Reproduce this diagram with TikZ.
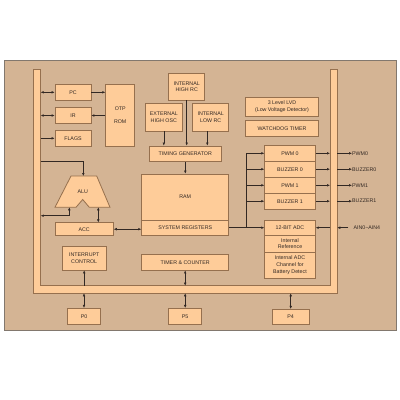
\documentclass[tikz,border=0pt]{standalone}
\usepackage{fontspec}
\setmainfont{Liberation Sans}
\usetikzlibrary{arrows.meta}
\definecolor{bgtan}{RGB}{212,180,148}
\definecolor{boxfill}{RGB}{254,204,153}
\definecolor{boxline}{RGB}{150,112,78}
\definecolor{ink}{RGB}{50,40,35}
\definecolor{frameline}{RGB}{130,120,110}
\tikzset{
  blk/.style={draw=boxline, fill=boxfill, line width=0.8pt, inner sep=0pt, align=center,
    font=\fontsize{5.3}{6.6}\selectfont, text=ink},
  lbl/.style={inner sep=0pt, font=\fontsize{5.3}{6.6}\selectfont, text=ink},
  con/.style={draw=ink, line width=0.5pt},
  arr/.style={con, -{Latex[length=3pt,width=2.6pt]}},
  darr/.style={con, {Latex[length=3pt,width=2.6pt]}-{Latex[length=3pt,width=2.6pt]}},
}
\begin{document}
\begin{tikzpicture}[x=1pt,y=-1pt]
\useasboundingbox (0,0) rectangle (400,400);
\fill[white] (0,0) rectangle (400,400);
% panel
\draw[fill=bgtan, draw=frameline, line width=0.8pt] (4,60.3) rectangle (396,330.3);
% bus
\draw[fill=boxfill, draw=boxline, line width=0.8pt]
  (33.3,69) -- (33.3,293.3) -- (337.3,293.3) -- (337.3,69) -- (330,69) -- (330,285.7)
  -- (40.7,285.7) -- (40.7,69) -- cycle;
\coordinate (bli) at (40.7,0);
\coordinate (bri) at (330,0);
\coordinate (bro) at (337.3,0);
\coordinate (bbi) at (0,285.7);
\coordinate (bbo) at (0,293.3);

% left blocks
\node[blk, minimum width=36pt, minimum height=15.3pt] (pc) at (73,92.3) {PC};
\node[blk, minimum width=36pt, minimum height=15.6pt] (ir) at (73,115.5) {IR};
\node[blk, minimum width=36pt, minimum height=15.3pt] (flags) at (73,138.3) {FLAGS};
\node[blk, minimum width=29pt, minimum height=61.3pt] (rom) at (120.2,115.3) {OTP\\[6.4pt]ROM};

% oscillators
\node[blk, minimum width=36pt, minimum height=27pt] (ihrc) at (186.7,86.5) {INTERNAL\\HIGH RC};
\node[blk, minimum width=36.3pt, minimum height=27.3pt] (ehosc) at (163.8,117.3) {EXTERNAL\\HIGH OSC};
\node[blk, minimum width=36pt, minimum height=27.3pt] (ilrc) at (210.7,117.3) {INTERNAL\\LOW RC};
\node[blk, minimum width=72pt, minimum height=15.7pt] (tg) at (185.3,153.8) {TIMING GENERATOR};

% RAM
\node[blk, minimum width=87pt, minimum height=46pt] (ram) at (185.2,197) {RAM};
\node[blk, minimum width=87pt, minimum height=15.3pt] (sr) at (185.2,227.7) {SYSTEM REGISTERS};

% right blocks
\node[blk, minimum width=72.6pt, minimum height=18.3pt] (lvd) at (282,106.8) {3 Level LVD\\(Low Voltage Detector)};
\node[blk, minimum width=72.6pt, minimum height=15.6pt] (wdt) at (282,128.5) {WATCHDOG TIMER};
\node[blk, minimum width=50.6pt, minimum height=15.3pt] (pwm0) at (290,153.3) {PWM 0};
\node[blk, minimum width=50.6pt, minimum height=16.3pt] (buz0) at (290,169.2) {BUZZER 0};
\node[blk, minimum width=50.6pt, minimum height=16pt] (pwm1) at (290,185.3) {PWM 1};
\node[blk, minimum width=50.6pt, minimum height=15.7pt] (buz1) at (290,201.2) {BUZZER 1};
\node[blk, minimum width=50.6pt, minimum height=15.6pt] (adc) at (290,227.7) {12-BIT ADC};
\node[blk, minimum width=50.6pt, minimum height=16.7pt] (iref) at (290,243.7) {Internal\\Reference};
\node[blk, minimum width=50.6pt, minimum height=26.3pt] (iadc) at (290,265.2) {Internal ADC\\Channel for\\Battery Detect};

% ALU
\draw[fill=boxfill, draw=boxline, line width=0.8pt]
  (71,176) -- (96.7,176) -- (110,207.3) -- (89.3,207.3) -- (82.7,199.5) -- (76,207.3) -- (55,207.3) -- cycle;
\node[lbl] (alu) at (82.7,191.7) {ALU};
\coordinate (alutop) at (83.3,176);
\coordinate (alubl) at (69.3,207.3);
\coordinate (alubr) at (98.3,207.3);
\coordinate (aluin) at (40.7,161.7);
\coordinate (aluout) at (40.7,215.7);

\node[blk, minimum width=58.3pt, minimum height=12.7pt] (acc) at (84.2,229.2) {ACC};
\node[blk, minimum width=43.7pt, minimum height=23.3pt] (ic) at (84.2,258.3) {INTERRUPT\\CONTROL};
\node[blk, minimum width=87pt, minimum height=15.7pt] (tc) at (185.2,262.2) {TIMER \& COUNTER};

% ports
\node[blk, minimum width=32.6pt, minimum height=15.7pt] (p0) at (84,316.2) {P0};
\node[blk, minimum width=33pt, minimum height=15.7pt] (p5) at (185.2,316.2) {P5};
\node[blk, minimum width=36.6pt, minimum height=15.4pt] (p4) at (290.7,317) {P4};

% output labels
\node[lbl, anchor=west] (lpwm0) at (352,153.3) {PWM0};
\node[lbl, anchor=west] (lbuz0) at (352,169.8) {BUZZER0};
\node[lbl, anchor=west] (lpwm1) at (352,185.8) {PWM1};
\node[lbl, anchor=west] (lbuz1) at (352,200.5) {BUZZER1};
\node[lbl, anchor=west] (lain) at (353.3,227.7) {AIN0\textasciitilde AIN4};

% connectors: left
\draw[darr] (pc.west -| bli) -- (pc.west);
\draw[darr] (ir.west -| bli) -- (ir.west);
\draw[arr] (flags.west -| bli) -- (flags.west);
\draw[arr] (pc.east) -- (pc.east -| rom.west);
\draw[arr] (ir.east -| rom.west) -- (ir.east);

% oscillators to timing generator
\draw[arr] (ihrc.south) -- (ihrc.south |- tg.north);
\draw[arr] (ehosc.south) -- (ehosc.south |- tg.north);
\draw[arr] ([xshift=-3.4pt]ilrc.south) -- ([xshift=-3.4pt]ilrc.south |- tg.north);
\draw[arr] (tg.south) -- (tg.south |- ram.north);

% ALU
\draw[arr] (aluin) -| (alutop);
\draw[darr] (alubl) |- (aluout);
\draw[darr] (alubr) -- (alubr |- acc.north);
\draw[darr] (acc.east) -- (acc.east -| sr.west);

% system registers to peripherals
\coordinate (sp) at (246.7,227.7);
\draw[con] (sr.east) -- (sp);
\draw[arr] (sp) -- (adc.west);
\draw[con] (sp) -- (sp |- pwm0.west);
\draw[arr] (sp |- pwm0.west) -- (pwm0.west);
\draw[arr] (sp |- buz0.west) -- (buz0.west);
\draw[arr] (sp |- pwm1.west) -- (pwm1.west);
\draw[arr] (sp |- buz1.west) -- (buz1.west);

% outputs through bus
\draw[arr] (pwm0.east) -- (pwm0.east -| bri);
\draw[arr] (pwm0.east -| bro) -- (lpwm0.west);
\draw[arr] (buz0.east) -- (buz0.east -| bri);
\draw[arr] (buz0.east -| bro) -- (lbuz0.west |- buz0.east);
\draw[arr] (pwm1.east) -- (pwm1.east -| bri);
\draw[arr] (pwm1.east -| bro) -- (lpwm1.west |- pwm1.east);
\draw[arr] (buz1.east) -- (buz1.east -| bri);
\draw[arr] (buz1.east -| bro) -- (lbuz1.west |- buz1.east);
\draw[arr] ([xshift=-5pt]lain.west) -- (lain.west -| bro);
\draw[arr] (adc.east -| bri) -- (adc.east);

% bottom
\draw[arr] (ic.south |- bbi) -- (ic.south);
\draw[darr] (tc.south) -- (tc.south |- bbi);
\draw[darr] (p0.north |- bbo) -- (p0.north);
\draw[darr] (p5.north |- bbo) -- (p5.north);
\draw[darr] (p4.north |- bbo) -- (p4.north);
\end{tikzpicture}
\end{document}
